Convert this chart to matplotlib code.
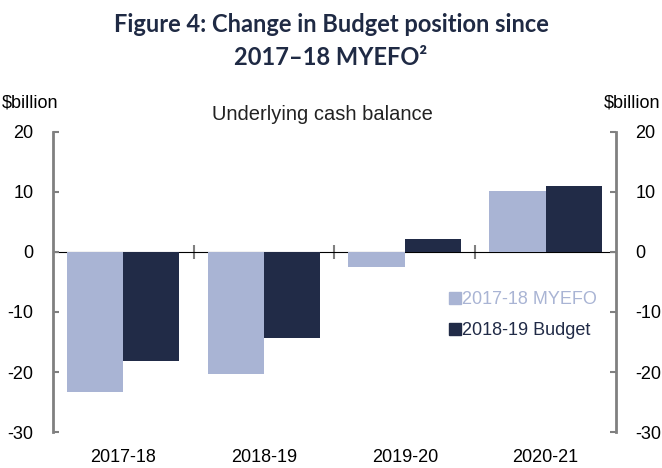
import matplotlib
matplotlib.use('Agg')
import matplotlib.pyplot as plt
from matplotlib.lines import Line2D
import numpy as np

plt.rcParams['font.family'] = ['Liberation Sans', 'DejaVu Sans']
plt.rcParams['axes.unicode_minus'] = False

years = ['2017-18', '2018-19', '2019-20', '2020-21']
myefo = [-23.4, -20.4, -2.5, 10.2]
budget = [-18.2, -14.3, 2.2, 11.0]
series_names = ['2017-18 MYEFO', '2018-19 Budget']

light = '#a9b4d4'
dark = '#212b47'
grey = '#808080'
ylo, yhi = -30, 20

fig = plt.figure(figsize=(6.62, 4.68), dpi=100)
ax = fig.add_axes([0.0796, 0.0769, 0.8509, 0.6411])

x = np.arange(len(years))
w = 0.4
ax.bar(x - w / 2, myefo, w, color=light, zorder=2)
ax.bar(x + w / 2, budget, w, color=dark, zorder=2)

ax.set_xlim(-0.5, len(years) - 0.5)
ax.set_ylim(ylo, yhi)
ax.set_yticks(np.arange(ylo, yhi + 1, 10))
ax.set_xticks(x)
ax.set_xticklabels(years)
ax.tick_params(axis='x', length=0, pad=12, labelsize=13)
ax.tick_params(axis='y', direction='in', length=4, width=1.5, color=grey,
               labelsize=13, pad=14, right=True, labelright=True)

for side in ['top', 'bottom']:
    ax.spines[side].set_visible(False)
for side in ['left', 'right']:
    ax.spines[side].set_color(grey)
    ax.spines[side].set_linewidth(2)

# zero line with category separator ticks
zero = ax.secondary_xaxis((0 - ylo) / (yhi - ylo))
zero.set_xticks(x[:-1] + 0.5)
zero.set_xticklabels([])
zero.tick_params(direction='inout', length=10, width=1.5, color=grey)
zero.spines['bottom'].set_color(grey)
zero.spines['bottom'].set_linewidth(2)
zero.spines['bottom'].set_zorder(3)

handles = [Line2D([], [], marker='s', linestyle='none', markersize=8,
                  color=c) for c in (light, dark)]
leg = ax.legend(handles, series_names, loc='upper left',
                bbox_to_anchor=(0.705, 0.47), frameon=False, fontsize=13,
                handlelength=0.6, handletextpad=0.05, labelspacing=0.8,
                borderaxespad=0, borderpad=0, labelcolor=[light, dark])
leg.set_zorder(5)

fig.text(0.487, 0.735, 'Underlying cash balance',
         ha='center', va='bottom', fontsize=14.5, color='#222222')
fig.text(0.003, 0.78, '$billion', ha='left', va='center', fontsize=13)
fig.text(0.997, 0.78, '$billion', ha='right', va='center', fontsize=13)

fig.text(0.5, 0.948, 'Figure 4: Change in Budget position since',
         ha='center', va='center', fontsize=17, fontweight='bold',
         color='#1f2a44', family=['Lato', 'DejaVu Sans'])
fig.text(0.5, 0.877, '2017–18 MYEFO²',
         ha='center', va='center', fontsize=17, fontweight='bold',
         color='#1f2a44', family=['Lato', 'DejaVu Sans'])

fig.savefig('out.png', dpi=100)
